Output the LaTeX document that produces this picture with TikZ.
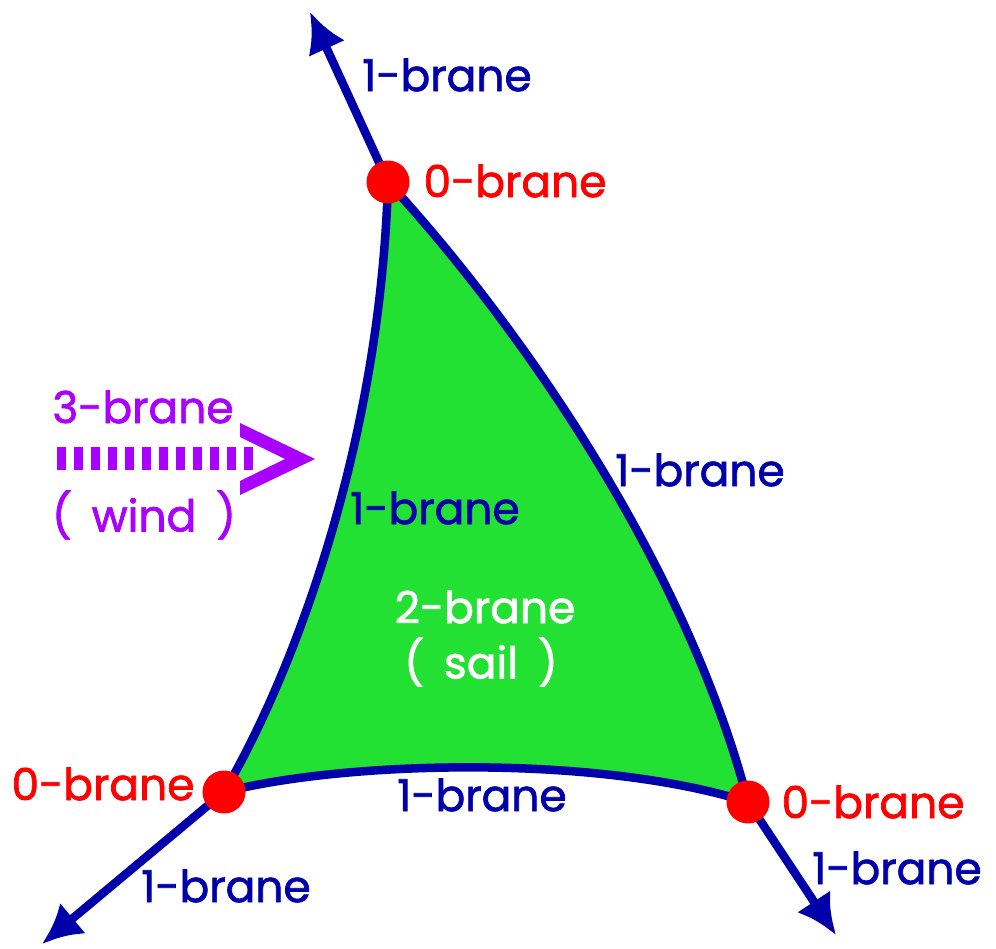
\documentclass[tikz,border=0pt]{standalone}
\usepackage{fontspec}
\setmainfont{Poppins}[FakeBold=1.6]
\usetikzlibrary{arrows.meta}
\definecolor{branenavy}{RGB}{0,0,170}
\definecolor{branered}{RGB}{255,0,0}
\definecolor{sailgreen}{RGB}{34,225,51}
\definecolor{windpurple}{RGB}{170,0,255}
\newcommand{\parsp}{\hspace{0.45em}}

\begin{document}
\begin{tikzpicture}[x=0.2mm, y=-0.2mm,
    brane/.style={line width=1.7mm, draw=branenavy},
    branetip/.style={brane, -{Latex[length=8mm, width=8mm]}},
    dot/.style={circle, fill=branered, minimum size=8.6mm, inner sep=0pt},
    lbl/.style={font=\fontsize{25}{30}\selectfont, inner sep=0pt},
    onelbl/.style={lbl, text=branenavy},
    zerolbl/.style={lbl, text=branered},
    windlbl/.style={lbl, text=windpurple},
    saillbl/.style={lbl, text=white}
  ]
  \useasboundingbox (0,0) rectangle (996,948);

  % corners of the sail
  \coordinate (A) at (388,182);
  \coordinate (B) at (224,792);
  \coordinate (C) at (748,802);
  \coordinate (tipA) at (310,12);
  \coordinate (tipB) at (42,944);
  \coordinate (tipC) at (836,935);

  % 2-brane (sail)
  \fill[sailgreen] (A) .. controls (380,450) and (290,680) .. (B)
    .. controls (350,760) and (600,755) .. (C)
    .. controls (685,560) and (515,320) .. (A) -- cycle;
  \draw[brane] (A) .. controls (380,450) and (290,680) .. (B);
  \draw[brane] (B) .. controls (350,760) and (600,755) .. (C);
  \draw[brane] (C) .. controls (685,560) and (515,320) .. (A);

  % outgoing 1-branes
  \draw[branetip] (A) -- (tipA);
  \draw[branetip] (B) -- (tipB);
  \draw[branetip] (C) -- (tipC);

  % 0-branes
  \node[dot] (dotA) at (A) {};
  \node[dot] (dotB) at (B) {};
  \node[dot] (dotC) at (C) {};

  % wind
  \coordinate (windL) at (57,458);
  \coordinate (windR) at (253,458);
  \draw[windpurple, line width=4.6mm, dash pattern=on 1.8mm off 1.6mm] (windL) -- (windR);
  \fill[windpurple] (240,423) -- (315,459) -- (240,495) -- (240,481)
    -- (285,459) -- (240,437) -- cycle;
  \node[windlbl] (wind3) at (143,407) {3-brane};
  \node[windlbl] (windtxt) at (144,515) {(\parsp wind\parsp)};

  % labels
  \node[onelbl] (lblTop) at (447,75) {1-brane};
  \node[zerolbl] (lblA) at (515,181) {0-brane};
  \node[onelbl] (lblLeft) at (435,508) {1-brane};
  \node[onelbl] (lblRight) at (700,470) {1-brane};
  \node[saillbl] (sail2) at (485,607) {2-brane};
  \node[saillbl] (sailtxt) at (481,662) {(\parsp sail\parsp)};
  \node[zerolbl] (lblB) at (103,784) {0-brane};
  \node[onelbl] (lblBottom) at (482,795) {1-brane};
  \node[zerolbl] (lblC) at (873,802) {0-brane};
  \node[onelbl] (lblBL) at (226,886) {1-brane};
  \node[onelbl] (lblBR) at (897,868) {1-brane};
\end{tikzpicture}
\end{document}
